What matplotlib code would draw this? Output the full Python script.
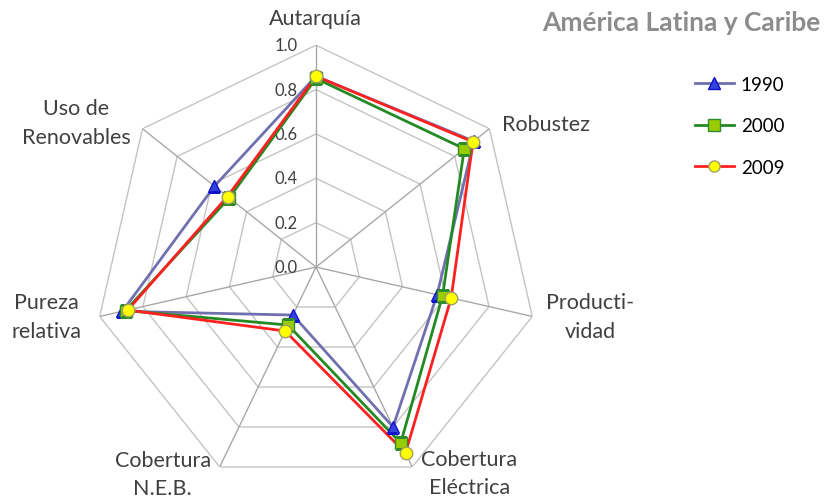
import numpy as np
import matplotlib
matplotlib.use("Agg")
import matplotlib.pyplot as plt
from matplotlib.lines import Line2D
from matplotlib.transforms import offset_copy

plt.rcParams['font.family'] = ['Lato', 'DejaVu Sans']

# Indicator names, clockwise from the top
categories = ["Autarquía", "Robustez", "Producti-\nvidad", "Cobertura\nEléctrica",
              "Cobertura\nN.E.B.", "Pureza\nrelativa", "Uso de\nRenovables"]

years = ["1990", "2000", "2009"]
values_1990 = [0.86, 0.91, 0.56, 0.80, 0.24, 0.895, 0.585]
values_2000 = [0.85, 0.855, 0.585, 0.88, 0.29, 0.88, 0.50]
values_2009 = [0.86, 0.905, 0.625, 0.93, 0.32, 0.87, 0.51]

rings = [0.0, 0.2, 0.4, 0.6, 0.8, 1.0]
tick_labels = ["0.0", "0.2", "0.4", "0.6", "0.8", "1.0"]

# Series styles: line colour, marker, marker face, marker edge
styles = {
    "1990": dict(color="#7070B0", marker="^", mfc="#3344DD", mec="#1010CC"),
    "2000": dict(color="#238A23", marker="s", mfc="#99CC00", mec="#2E8B2E"),
    "2009": dict(color="#FF2020", marker="o", mfc="#FFFF00", mec="#A0A060"),
}

# Pixel offsets of each category label from its outer vertex
label_offsets = [(-1, 27), (57, 5), (58, 0), (57, -6), (-57, -7), (-53, 0), (-66, 6)]

n = len(categories)
theta = np.arange(n) * 2 * np.pi / n
theta_closed = np.append(theta, theta[0])

fig = plt.figure(figsize=(8.25, 5.02), dpi=100)
ax = fig.add_axes([0.114, 0.024, 0.538, 0.884], projection="polar")
ax.set_theta_offset(np.pi / 2)
ax.set_theta_direction(-1)
ax.set_ylim(0, 1)
ax.grid(False)
ax.spines["polar"].set_visible(False)
ax.set_xticks([])
ax.set_yticks([])
ax.patch.set_alpha(0)

grid_col = "#C4C4C4"
# heptagonal rings
for r in rings[1:]:
    ax.plot(theta_closed, [r] * (n + 1), color=grid_col, lw=1.0, zorder=1)
# spokes
for t in theta:
    ax.plot([t, t], [0, 1], color="#A8A8A8", lw=1.0, zorder=1)

# radial tick labels along the top spoke
tick_tr = offset_copy(ax.transData, fig=fig, x=-18, y=0, units="dots")
for r, lab in zip(rings, tick_labels):
    ax.text(0, r, lab, transform=tick_tr, ha="right", va="center",
            fontsize=12, color="#404040")

series = {"1990": values_1990, "2000": values_2000, "2009": values_2009}
handles = []
for i, yr in enumerate(years):
    st = styles[yr]
    vals = series[yr] + [series[yr][0]]
    ax.plot(theta_closed, vals, color=st["color"], lw=2.0, zorder=3 + i)
    ax.plot(theta, series[yr], ls="none", marker=st["marker"], ms=9,
            mfc=st["mfc"], mec=st["mec"], mew=1.0, zorder=6 + i)
    handles.append(Line2D([], [], color=st["color"], lw=2.0, marker=st["marker"],
                          ms=8, mfc=st["mfc"], mec=st["mec"], label=yr))

# category labels
for t, lab, (dx, dy) in zip(theta, categories, label_offsets):
    ax.annotate(lab, xy=(t, 1.0), xytext=(dx, dy), textcoords="offset pixels",
                ha="center", va="center", fontsize=15.5, color="#404040",
                linespacing=1.55, annotation_clip=False)

fig.text(0.994, 0.955, "América Latina y Caribe", ha="right", va="center",
         fontsize=19, fontweight="bold", color="#8C8C8C")

fig.legend(handles=handles, loc="upper left", bbox_to_anchor=(0.833, 0.862),
           frameon=False, fontsize=13.5, labelspacing=1.3, handlelength=2.1,
           handletextpad=0.35, borderaxespad=0)

fig.savefig("out.png", dpi=100)
